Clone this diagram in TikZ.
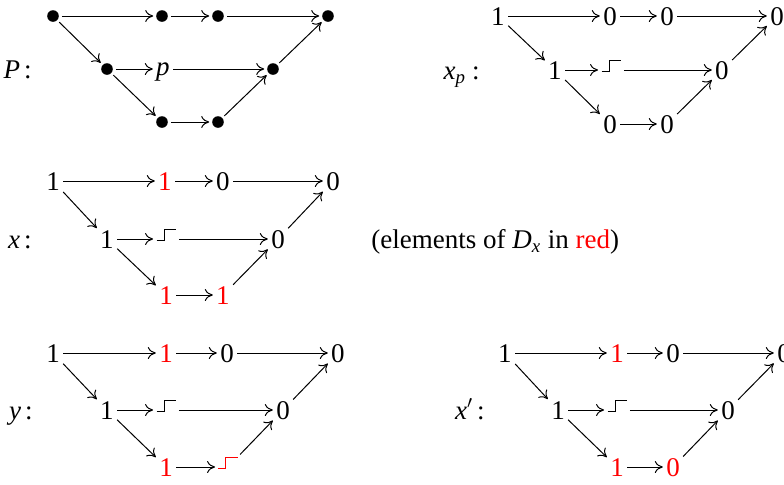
\documentclass[tikz,border=0pt]{standalone}
\usepackage{fontspec}
\setmainfont{Liberation Serif}
\usetikzlibrary{arrows.meta}
\newcommand\stp{\raisebox{3.6pt}{\rule{3.5pt}{0.5pt}\rule{0.5pt}{5.8pt}\raisebox{5.3pt}{\rule{5.5pt}{0.5pt}}}}
\begin{document}
\begin{tikzpicture}[x=0.5pt,y=-0.5pt,
  font=\fontsize{13.5}{16}\selectfont,
  n/.style={inner xsep=1.5pt, inner ysep=1.5pt, text height=9.2pt, text depth=0pt},
  pn/.style={n, text height=6pt},
  dot/.style={circle, fill, inner sep=0pt, minimum size=5.8pt, outer sep=1.5pt},
  lab/.style={n, anchor=east},
  hl/.style={text=red},
  ar/.style={-{Computer Modern Rightarrow[length=4pt,width=6pt]}, line width=0.5pt}]
\useasboundingbox (0,0) rectangle (784,484);
% P
\node[lab] (Pl) at (35,69) {\textit{P}\hspace{2pt}:};
\node[dot] (pa1) at (53,16) {};
\node[dot] (pa2) at (162,16) {};
\node[dot] (pa3) at (218,16) {};
\node[dot] (pa4) at (328,16) {};
\node[dot] (pb1) at (107,69) {};
\node[pn]  (pb2) at (163,69) {\textit{p}};
\node[dot] (pb3) at (273,69) {};
\node[dot] (pc1) at (162,122) {};
\node[dot] (pc2) at (218,122) {};
% x_p
\node[lab] (ql) at (483,70) {\textit{x}\textsubscript{\textit{p}}\hspace{3pt}:};
\node[n] (qa1) at (498,16) {1};
\node[n] (qa2) at (610,16) {0};
\node[n] (qa3) at (667,16) {0};
\node[n] (qa4) at (777,16) {0};
\node[n] (qb1) at (555,70) {1};
\node[n] (qb2) at (611,70) {\stp};
\node[n] (qb3) at (722,70) {0};
\node[n] (qc1) at (610,124) {0};
\node[n] (qc2) at (667,124) {0};
% x
\node[lab] (xl) at (35,239) {\textit{x}\hspace{2pt}:};
\node[n] (xa1) at (53,181) {1};
\node[n,hl] (xa2) at (165,181) {1};
\node[n] (xa3) at (223,181) {0};
\node[n] (xa4) at (333,181) {0};
\node[n] (xb1) at (107,239) {1};
\node[n] (xb2) at (166,239) {\stp};
\node[n] (xb3) at (278,239) {0};
\node[n,hl] (xc1) at (166,295) {1};
\node[n,hl] (xc2) at (223,295) {1};
\node[n,anchor=west] (note) at (368,239) {(elements of \textit{D}\textsubscript{\textit{x}} in \textcolor{red}{red})};
% y
\node[lab] (yl) at (36,410) {\textit{y}\hspace{2pt}:};
\node[n] (ya1) at (53,353) {1};
\node[n,hl] (ya2) at (166,353) {1};
\node[n] (ya3) at (227,353) {0};
\node[n] (ya4) at (338,353) {0};
\node[n] (yb1) at (107,410) {1};
\node[n] (yb2) at (166,410) {\stp};
\node[n] (yb3) at (283,410) {0};
\node[n,hl] (yc1) at (166,467) {1};
\node[n,text=red] (yc2) at (228,467) {\color{red}\stp};
% x'
\node[lab] (zl) at (488,410) {\textit{x}$'$\hspace{2pt}:};
\node[n] (za1) at (505,353) {1};
\node[n,hl] (za2) at (617,353) {1};
\node[n] (za3) at (673,353) {0};
\node[n] (za4) at (784,353) {0};
\node[n] (zb1) at (558,410) {1};
\node[n] (zb2) at (617,410) {\stp};
\node[n] (zb3) at (728,410) {0};
\node[n,hl] (zc1) at (617,467) {1};
\node[n,hl] (zc2) at (673,467) {0};
% arrows
\foreach \dg in {p,q,x,y,z}{
  \draw[ar] (\dg a1) -- (\dg a2);
  \draw[ar] (\dg a2) -- (\dg a3);
  \draw[ar] (\dg a3) -- (\dg a4);
  \draw[ar] (\dg a1) -- (\dg b1);
  \draw[ar] (\dg b1) -- (\dg b2);
  \draw[ar] (\dg b2) -- (\dg b3);
  \draw[ar] (\dg b1) -- (\dg c1);
  \draw[ar] (\dg c1) -- (\dg c2);
  \draw[ar] (\dg c2) -- (\dg b3);
  \draw[ar] (\dg b3) -- (\dg a4);
}
\end{tikzpicture}
\end{document}
